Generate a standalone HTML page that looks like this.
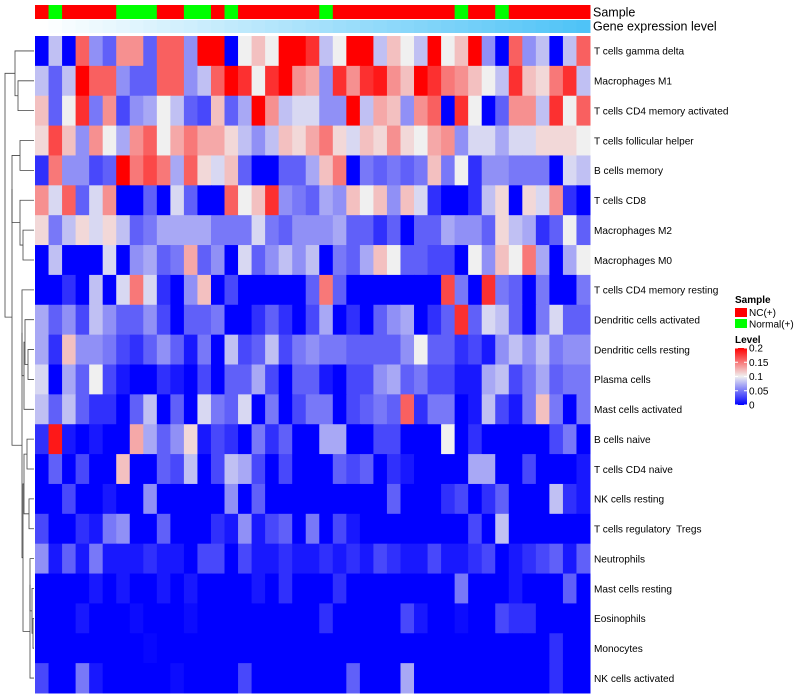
<!DOCTYPE html>
<html><head><meta charset="utf-8"><style>
body{margin:0;background:#fff;}
svg{display:block;font-family:"Liberation Sans",Arial,sans-serif;}
text{white-space:pre;}
</style></head><body>
<svg id="chart" width="800" height="700" xmlns="http://www.w3.org/2000/svg">
<g id="dendro"></g>
<g id="annot"></g>
<g id="cells"></g>
<g id="labels"></g>
<text x="593" y="16.5" font-size="12.5" fill="#000">Sample</text>
<text x="593" y="30.5" font-size="12.5" fill="#000">Gene expression level</text>
<g id="legend">
<text x="735" y="303" font-size="10" font-weight="bold">Sample</text>
<rect x="735" y="308" width="12" height="9" fill="#ff0000"/>
<text x="749" y="316" font-size="10">NC(+)</text>
<rect x="735" y="319" width="12" height="9" fill="#00ff00"/>
<text x="749" y="327.5" font-size="10">Normal(+)</text>
<text x="735" y="343" font-size="10" font-weight="bold">Level</text>
<defs><linearGradient id="lg" x1="0" y1="1" x2="0" y2="0"><stop offset="0" stop-color="#0000ff"/><stop offset="0.5" stop-color="#f0f0f0"/><stop offset="1" stop-color="#ff0000"/></linearGradient></defs>
<rect x="735" y="348" width="12" height="57" fill="url(#lg)"/>
<g id="legticks"></g>
</g>
</svg>
<script>
const rowNames=["T cells gamma delta","Macrophages M1","T cells CD4 memory activated","T cells follicular helper","B cells memory","T cells CD8","Macrophages M2","Macrophages M0","T cells CD4 memory resting","Dendritic cells activated","Dendritic cells resting","Plasma cells","Mast cells activated","B cells naive","T cells CD4 naive","NK cells resting","T cells regulatory  Tregs","Neutrophils","Mast cells resting","Eosinophils","Monocytes","NK cells activated"];
const sampleGroups=["NC","Normal","NC","NC","NC","NC","Normal","Normal","Normal","NC","NC","Normal","Normal","NC","Normal","NC","NC","NC","NC","NC","NC","Normal","NC","NC","NC","NC","NC","NC","NC","NC","NC","Normal","NC","NC","Normal","NC","NC","NC","NC","NC","NC"];
const geneLevel=[0,1,2,3,4,5,6,7,8,9,10,11,12,13,14,15,16,17,18,19,20,21,22,23,24,25,26,27,28,29,30,31,32,33,34,35,36,37,38,39,40];
const legendTicks=[0,0.05,0.1,0.15,0.2];
// values in hundredths (0.01 units)
const r0=[0,8,0,16,6,4,14,14,4,16,16,6,20,20,0,10,12,10,20,20,18,8,10,20,20,8,12,10,8,20,10,12,20,6,0,16,6,8,0,8,16];
const r1=[8,4,8,20,16,16,6,4,4,16,16,6,8,16,20,18,10,18,20,14,13,6,18,14,18,19,14,12,20,18,15,14,12,10,8,18,12,11,15,18,8];
const r2=[12,4,10,18,5,14,3,6,7,10,8,4,3,12,4,7,20,14,8,9,9,6,6,20,8,13,12,6,14,16,0,18,10,0,4,14,14,8,18,10,16];
const r3=[11,17,12,6,14,10,7,14,16,10,13,15,13,13,11,8,6,8,12,11,13,15,11,9,12,11,14,11,10,13,14,6,9,9,7,9,9,11,11,11,10];
const r4=[2,15,6,6,3,4,20,15,17,15,7,16,11,9,12,4,0,0,4,4,7,12,15,0,5,4,5,4,5,12,5,10,2,6,6,5,5,5,0,9,8];
const r5=[14,9,16,4,9,14,0,0,4,0,9,4,0,0,16,10,12,18,6,5,4,7,6,12,10,12,6,12,9,2,0,0,2,8,11,0,11,9,14,2,0];
const r6=[11,5,8,11,9,11,8,4,5,7,7,7,7,5,5,5,9,5,4,6,6,6,7,4,4,2,4,0,4,4,7,6,6,4,11,8,7,2,4,10,4];
const r7=[0,8,0,0,0,9,0,6,7,4,5,13,4,6,0,9,4,6,8,6,8,0,5,4,7,12,10,4,4,3,3,0,10,6,12,10,15,7,0,7,10];
const r8=[0,0,2,0,8,0,9,15,9,2,0,6,12,0,3,0,0,0,0,0,4,15,4,0,0,0,0,0,0,0,17,5,0,18,5,4,0,5,0,0,5];
const r9=[7,4,6,3,8,6,4,4,6,3,0,4,4,5,0,0,2,4,2,0,3,7,0,2,0,4,6,7,0,2,4,18,4,9,8,4,0,5,9,4,4];
const r10=[7,2,12,6,6,5,3,2,4,6,4,1,5,0,8,3,4,8,3,5,6,5,5,4,4,4,4,6,10,4,4,2,3,1,6,8,6,8,5,6,6];
const r11=[9,0,7,4,10,3,1,0,0,2,1,0,3,0,4,4,7,3,0,4,4,1,0,3,3,6,7,4,5,3,3,1,1,7,8,3,5,7,4,5,5];
const r12=[8,4,8,4,2,2,0,4,8,0,4,0,9,5,4,9,0,5,0,3,5,5,0,3,4,5,4,16,2,5,5,0,1,8,3,1,5,12,5,0,5];
const r13=[2,19,1,0,1,0,0,13,7,4,6,11,1,3,2,0,5,2,4,0,0,7,7,0,0,3,3,0,0,0,10,0,2,0,0,0,0,0,3,5,0];
const r14=[0,4,0,3,0,0,12,0,0,4,3,8,0,3,8,7,3,0,3,0,0,0,4,3,4,0,2,1,0,0,0,0,7,7,0,0,3,0,0,0,1];
const r15=[0,0,3,0,0,1,0,0,6,0,0,0,0,0,6,0,4,0,0,0,0,0,0,0,0,0,4,0,0,0,2,3,0,2,4,0,0,0,8,2,1];
const r16=[3,0,0,2,1,5,6,0,0,4,0,0,0,2,1,6,1,3,4,0,5,0,3,1,0,0,0,0,0,0,0,0,3,0,8,0,0,0,0,0,0];
const r17=[6,1,4,1,5,1,1,1,2,1,1,0,3,3,0,3,1,1,2,1,1,2,1,2,1,3,2,1,1,3,1,1,2,3,0,1,2,3,4,1,4];
const r18=[0,0,0,0,1,0,1,0,0,1,0,1,0,0,0,0,1,0,2,0,0,0,2,0,0,0,0,0,0,0,0,5,0,0,0,1,0,0,0,4,0];
const r19=[0,0,0,1,0,0,0,0.5,0,0,0,0.5,0,0,0,0,0,0,0,0,0,2,0,0,0,0,0,3,1,0,0,0.5,0,0,3,2,2,0,0,0,0];
const r20=[0,0,0,0,0,0,0,0,0.3,0,0,0,0,0,0,0,0,0,0,0,0,0,0,0,0,0,0,0,0,0,0,0,0,0,0,0,0,0,2,0,0];
const r21=[3,0,0,5,1,0,0,0,0,0,0.5,0,0,0,0,3,0,0,0,0,0,0,0,4,0,0,0,7,0,0,0,0,0,0,0,0,0,0,2,0,0];
const values=[r0,r1,r2,r3,r4,r5,r6,r7,r8,r9,r10,r11,r12,r13,r14,r15,r16,r17,r18,r19,r20,r21];

const NS="http://www.w3.org/2000/svg";
const X0=35,X1=590,Y0=36,Y1=693;
const nCol=sampleGroups.length,nRow=rowNames.length;
const cw=(X1-X0)/nCol,rh=(Y1-Y0)/nRow;
const xs=i=>X0+i*cw, ys=j=>Y0+j*rh;
const vmax=0.2;
function col(v){let t=Math.max(0,Math.min(1,v/vmax));let r,g,b;
 if(t<0.5){const s=t/0.5;r=240*s;g=240*s;b=255-15*s;}else{const s=(t-0.5)/0.5;r=240+15*s;g=240*(1-s);b=240*(1-s);}
 return `rgb(${Math.round(r)},${Math.round(g)},${Math.round(b)})`;}
function mk(tag,attrs,parent){const e=document.createElementNS(NS,tag);for(const k in attrs)e.setAttribute(k,attrs[k]);parent.appendChild(e);return e;}
const cells=document.getElementById('cells');
values.forEach((row,j)=>row.forEach((v,i)=>{
 const r=mk('rect',{x:xs(i).toFixed(2),y:ys(j).toFixed(2),width:(cw+0.5).toFixed(2),height:(rh+0.5).toFixed(2),fill:col(v*0.01)},cells);
 
 
}));
const annot=document.getElementById('annot');
sampleGroups.forEach((g,i)=>{
 const r=mk('rect',{x:xs(i).toFixed(2),y:5,width:(cw+0.5).toFixed(2),height:14,fill:g==="NC"?"#ff0000":"#00ff00"},annot);
 
 
});
geneLevel.forEach((g,i)=>{
 const t=g/40;
 const c=`rgb(${Math.round(255-(255-79)*t)},${Math.round(255-(255-195)*t)},${Math.round(255-(255-247)*t)})`;
 const r=mk('rect',{x:xs(i).toFixed(2),y:20,width:(cw+0.5).toFixed(2),height:13,fill:c},annot);
 
 
});
const labels=document.getElementById('labels');
rowNames.forEach((n,j)=>{
 const t=mk('text',{x:594,y:(ys(j)+rh/2+3.8).toFixed(1),'font-size':10.1,fill:'#000'},labels);
 t.textContent=n;
 
 
});
const lt=document.getElementById('legticks');
legendTicks.forEach(v=>{
 const y=405-(v/vmax)*57;
 const t=mk('text',{x:749,y:(y+3.5).toFixed(1),'font-size':10},lt);
 t.textContent=String(v);
 
 
 mk('line',{x1:735,x2:738,y1:y,y2:y,stroke:'#fff','stroke-width':1},lt);
 mk('line',{x1:744,x2:747,y1:y,y2:y,stroke:'#fff','stroke-width':1},lt);
});
// dendrogram
const merges=[[1,2,18],[0,22,15],[3,4,20],[6,7,23],[5,25,20],[24,26,12],[10,11,28],[9,28,25],[29,12,24],[8,30,22],[13,14,27],[15,16,29],[32,33,24],[19,20,33],[18,35,32],[17,36,30],[37,21,30],[34,38,23],[31,39,22],[27,40,12],[23,41,5]];
const pos={};for(let j=0;j<nRow;j++)pos[j]={y:ys(j)+rh/2,x:X0-1};
const dg=document.getElementById('dendro');
merges.forEach((m,k)=>{
 const a=pos[m[0]],b=pos[m[1]],x=m[2];
 const p=mk('path',{d:`M${a.x},${a.y}H${x}V${b.y}H${b.x}`,fill:'none',stroke:'#444','stroke-width':0.8},dg);
 
 
 pos[nRow+k]={x:x,y:(a.y+b.y)/2};
});
</script>
</body></html>
